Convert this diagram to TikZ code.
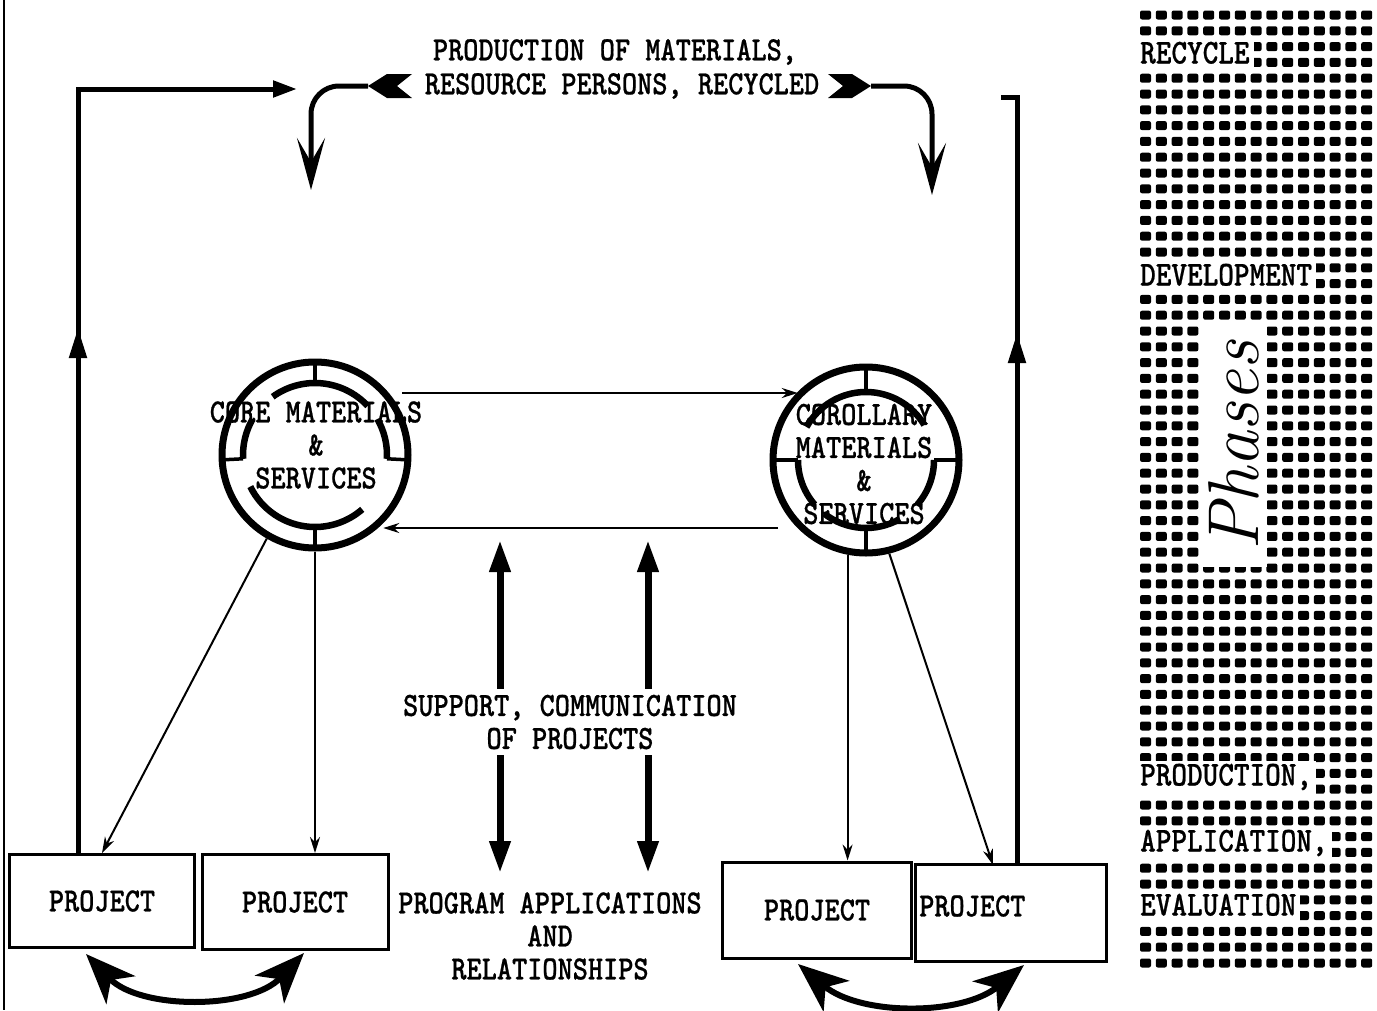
\documentclass[tikz,border=0pt]{standalone}
\usepackage{fontspec}
\newfontfamily\tw{lmmono10-regular.otf}[FakeStretch=0.85, BoldFont=lmmonolt10-bold.otf, BoldFeatures={FakeBold=0.6}]
\usetikzlibrary{arrows.meta,decorations.markings,calc}
\begin{document}
\begin{tikzpicture}[x=1pt,y=-1pt,
  txt/.style={font=\tw\bfseries\fontsize{34}{33}\selectfont, inner sep=0pt, align=center},
  side/.style={font=\tw\bfseries\fontsize{35}{33}\selectfont, inner sep=4pt, fill=white, anchor=west, text height=21pt, text depth=4pt},
  box/.style={draw, line width=3pt, inner sep=0pt, font=\tw\bfseries\fontsize{34}{33}\selectfont},
  ring/.style={circle, draw, line width=7pt, minimum size=186pt, inner sep=0pt},
  arcline/.style={line width=6.5pt},
  spoke/.style={line width=3.5pt},
  conn/.style={line width=2pt, -{Stealth[length=16pt,width=10pt]}},
  loopline/.style={line width=5pt},
  dbl/.style={line width=7pt, {Triangle[length=32pt,width=20pt]}-{Triangle[length=32pt,width=20pt]}},
  bigdbl/.style={line width=6pt, {Stealth[length=50pt,width=40pt,inset=14pt]}-{Stealth[length=50pt,width=40pt,inset=14pt]}},
  dart/.style={line width=5pt, -{Stealth[length=52pt,width=28pt,inset=24pt]}},
  dot/.style={fill=black, rounded corners=2pt},
  upmark/.style={postaction={decorate}, decoration={markings, mark=at position #1 with {\arrow{Triangle[length=30pt,width=17pt]}}}},
]
\useasboundingbox (0,0) rectangle (1377,1010);
\fill[white] (0,0) rectangle (1377,1010);
% page edge
\draw[line width=1.5pt] (4,0) -- (4,1010);

% project boxes
\node[box, minimum width=185pt, minimum height=93pt] (p1) at (102,901) {PROJECT};
\node[box, minimum width=186pt, minimum height=95pt] (p2) at (295,902) {PROJECT};
\node[box, minimum width=189pt, minimum height=96pt] (p3) at (817,910) {PROJECT};
\node[box, minimum width=191pt, minimum height=97pt] (p4) at (1011,913) {};
\node[txt, anchor=west] (p4t) at (919,906) {PROJECT};

% circles
\node[ring] (c1) at (315,455) {};
\node[ring] (c2) at (866,460) {};
\foreach \a/\b in {43/126,150/183,206/311,-3/30}
  \draw[arcline] ($(c1.center)+(\a:72pt)$) arc[start angle=\a,end angle=\b,radius=72pt];
\foreach \t in {90,183,270,-3}
  \draw[spoke] ($(c1.center)+(\t:72pt)$) -- ($(c1.center)+(\t:92pt)$);
\foreach \a/\b in {31/151,180/221,232/300,319/360}
  \draw[arcline] ($(c2.center)+(\a:68pt)$) arc[start angle=\a,end angle=\b,radius=68pt];
\foreach \t in {90,180,270,0}
  \draw[spoke] ($(c2.center)+(\t:68pt)$) -- ($(c2.center)+(\t:92pt)$);
\node[txt] (c1t) at (316,445) {CORE MATERIALS\\\&\\SERVICES};
\node[txt] (c2t) at (864,464) {COROLLARY\\MATERIALS\\\&\\SERVICES};

% connectors between circles
\coordinate (h1s) at (402,393);
\draw[conn] (h1s) -- (h1s -| c2.north west);
\coordinate (h2s) at (778,528);
\draw[conn] (h2s) -- (h2s -| c1.south east);

% circles to projects
\draw[conn] (c1.240) -- (p1.north);
\draw[conn] (c1.south) -- (c1.south |- p2.north);
\draw[conn] (c2.259) -- (c2.259 |- p3.north);
\coordinate (e4) at (993,865);
\draw[conn] (c2.284) -- (e4);

% feedback loops
\coordinate (lx) at (78,0);
\coordinate (lt) at (297,89);
\draw[loopline, -{Triangle[length=24pt,width=16pt]}, upmark=525pt] (lx |- p1.north) |- (lt);
\coordinate (rx) at (1017,0);
\coordinate (rt) at (1001,97);
\draw[loopline, upmark=530pt] (rx |- p4.north) |- (rt);

% top title and curved darts
\node[txt] (ti1) at (615,52) {PRODUCTION OF MATERIALS,};
\node[txt] (ti2) at (622,86) {RESOURCE PERSONS, RECYCLED};
\fill (412,74) -- (387,74) -- (368,86) -- (387,98) -- (412,98) -- (397,86) -- cycle;
\fill (828,74) -- (852,74) -- (871,86) -- (852,98) -- (828,98) -- (843,86) -- cycle;
\coordinate (cl) at (368,86);
\coordinate (dl) at (311,190);
\draw[dart, rounded corners=28pt] (cl) -| (dl);
\coordinate (cr) at (871,86);
\coordinate (dr) at (932,195);
\draw[dart, rounded corners=28pt] (cr) -| (dr);

% central double arrows
\coordinate (a1t) at (500,540);
\coordinate (a1b) at (500,873);
\coordinate (a2t) at (648,540);
\coordinate (a2b) at (648,873);
\draw[dbl] (a1t) -- (a1b);
\draw[dbl] (a2t) -- (a2b);
\node[txt, fill=white, inner sep=6pt] (sup) at (570,722) {SUPPORT, COMMUNICATION\\OF PROJECTS};
\node[txt] (prog) at (550,936) {PROGRAM APPLICATIONS\\AND\\RELATIONSHIPS};

% bottom curved double arrows
\coordinate (bl1) at (86,954);
\coordinate (bl2) at (304,953);
\draw[bigdbl] (bl1) .. controls (140,1010) and (250,1010) .. (bl2);
\coordinate (bl3) at (798,964);
\coordinate (bl4) at (1024,965);
\draw[bigdbl] (bl3) .. controls (860,1016) and (962,1016) .. (bl4);

% halftone phases panel
\foreach \r in {0,...,60}{
  \foreach \c in {0,...,14}{
    \fill[dot] ({1140+15.8*\c},{10.5+15.8*\r}) rectangle ++(11,9);
  }
}
\node[side] (sr) at (1136,55) {RECYCLE};
\node[side] (sd) at (1136,277) {DEVELOPMENT};
\fill[white] (1203,325) rectangle (1267,567);
\node[rotate=90, anchor=base, font=\itshape\fontsize{72}{72}\selectfont, inner sep=0pt] (ph) at (1258,446) {Phases};
\node[side] (sp) at (1136,777) {PRODUCTION,};
\node[side] (sa) at (1136,843) {APPLICATION,};
\node[side] (se) at (1136,907) {EVALUATION};
\end{tikzpicture}
\end{document}
